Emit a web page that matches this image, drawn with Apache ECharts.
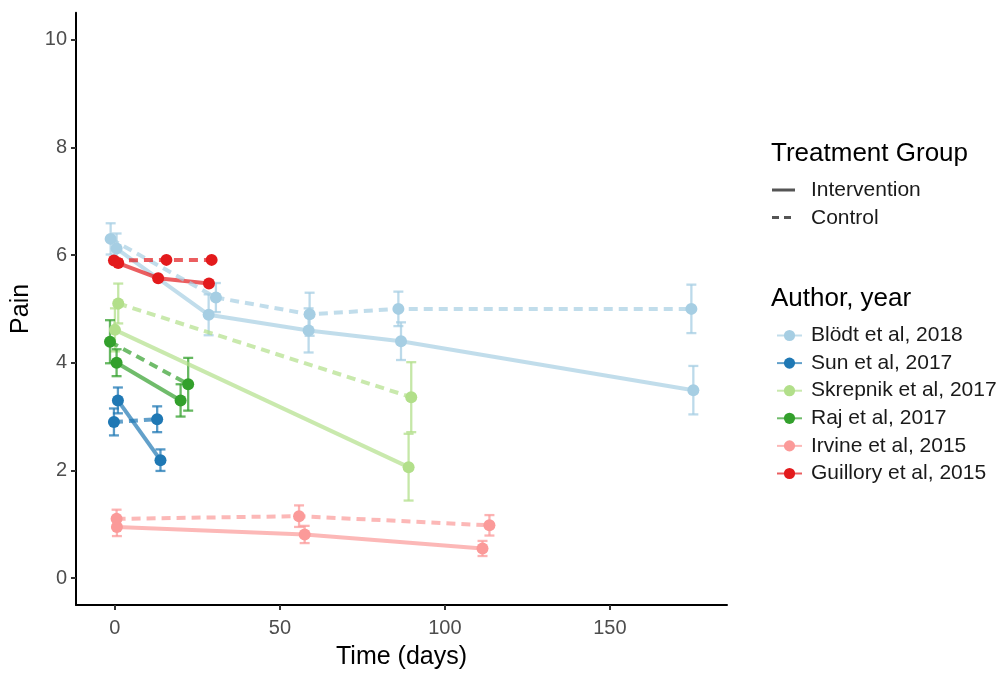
<!DOCTYPE html>
<html>
<head>
<meta charset="utf-8">
<script src="https://cdn.jsdelivr.net/npm/echarts@6/dist/echarts.min.js"></script>
<style>html,body{margin:0;padding:0;background:#fff;}#c{width:1001px;height:675px;}</style>
</head>
<body>
<div id="c"></div>
<script>
// ---- data ----
const authors = ['Blödt et al, 2018', 'Sun et al, 2017', 'Skrepnik et al, 2017', 'Raj et al, 2017', 'Irvine et al, 2015', 'Guillory et al, 2015'];
const colors = ['#A6CEE3', '#1F78B4', '#B2DF8A', '#33A02C', '#FB9A99', '#E31A1C'];
const groups = ['Intervention', 'Control'];
const xTicks = [0, 50, 100, 150];
const yTicks = [0, 2, 4, 6, 8, 10];

// Intervention arms
const bloedtIntDays = [0.5, 28.4, 58.7, 86.7, 175.3];
const bloedtIntPain = [6.12, 4.89, 4.60, 4.40, 3.49];
const bloedtIntErr  = [0.28, 0.38, 0.41, 0.35, 0.45];
const sunIntDays = [0.9, 13.8];
const sunIntPain = [3.30, 2.19];
const sunIntErr  = [0.24, 0.20];
const skrepIntDays = [0.0, 89.0];
const skrepIntPain = [4.61, 2.06];
const skrepIntErr  = [0.40, 0.62];
const rajIntDays = [0.5, 19.9];
const rajIntPain = [4.00, 3.30];
const rajIntErr  = [0.25, 0.30];
const irvIntDays = [0.6, 57.5, 111.4];
const irvIntPain = [0.95, 0.81, 0.55];
const irvIntErr  = [0.17, 0.16, 0.14];
const guilIntDays = [1.0, 13.1, 28.5];
const guilIntPain = [5.85, 5.57, 5.47];
const guilIntErr  = [0, 0, 0];

// Control arms
const bloedtCtlDays = [-1.3, 30.6, 59.0, 85.9, 174.7];
const bloedtCtlPain = [6.30, 5.21, 4.90, 5.00, 5.00];
const bloedtCtlErr  = [0.29, 0.27, 0.40, 0.32, 0.45];
const sunCtlDays = [-0.3, 12.8];
const sunCtlPain = [2.90, 2.95];
const sunCtlErr  = [0.25, 0.24];
const skrepCtlDays = [1.0, 89.8];
const skrepCtlPain = [5.10, 3.36];
const skrepCtlErr  = [0.37, 0.65];
const rajCtlDays = [-1.5, 22.2];
const rajCtlPain = [4.39, 3.60];
const rajCtlErr  = [0.40, 0.49];
const irvCtlDays = [0.5, 55.8, 113.5];
const irvCtlPain = [1.10, 1.15, 0.98];
const irvCtlErr  = [0.17, 0.20, 0.19];
const guilCtlDays = [-0.3, 15.6, 29.3];
const guilCtlPain = [5.90, 5.91, 5.91];
const guilCtlErr  = [0, 0, 0];

const arms = [
  [0, 0, bloedtIntDays, bloedtIntPain, bloedtIntErr],
  [1, 0, sunIntDays, sunIntPain, sunIntErr],
  [2, 0, skrepIntDays, skrepIntPain, skrepIntErr],
  [3, 0, rajIntDays, rajIntPain, rajIntErr],
  [4, 0, irvIntDays, irvIntPain, irvIntErr],
  [5, 0, guilIntDays, guilIntPain, guilIntErr],
  [0, 1, bloedtCtlDays, bloedtCtlPain, bloedtCtlErr],
  [1, 1, sunCtlDays, sunCtlPain, sunCtlErr],
  [2, 1, skrepCtlDays, skrepCtlPain, skrepCtlErr],
  [3, 1, rajCtlDays, rajCtlPain, rajCtlErr],
  [4, 1, irvCtlDays, irvCtlPain, irvCtlErr],
  [5, 1, guilCtlDays, guilCtlPain, guilCtlErr]
];

const FONT = '"Liberation Sans", Arial, sans-serif';
const series = [];

arms.forEach(([ai, gi, d, p, e]) => {
  const col = colors[ai];
  series.push({
    type: 'custom',
    z: 2,
    silent: true,
    data: d.map((x, i) => [x, p[i], e[i]]),
    encode: {x: 0, y: 1},
    renderItem: function (params, api) {
      const x = api.value(0), y = api.value(1), er = api.value(2);
      if (!er) return null;
      const t = api.coord([x, y + er]);
      const b = api.coord([x, y - er]);
      const hw = 5;
      const st = {stroke: col, lineWidth: 2.3, opacity: 0.75};
      return {
        type: 'group',
        children: [
          {type: 'line', shape: {x1: t[0], y1: t[1], x2: b[0], y2: b[1]}, style: st},
          {type: 'line', shape: {x1: t[0] - hw, y1: t[1], x2: t[0] + hw, y2: t[1]}, style: st},
          {type: 'line', shape: {x1: b[0] - hw, y1: b[1], x2: b[0] + hw, y2: b[1]}, style: st}
        ]
      };
    }
  });
});

arms.forEach(([ai, gi, d, p, e]) => {
  const col = colors[ai];
  series.push({
    type: 'line',
    name: authors[ai],
    z: 3,
    data: d.map((x, i) => [x, p[i]]),
    symbol: 'circle',
    symbolSize: 12,
    showSymbol: true,
    animation: false,
    itemStyle: {color: col, opacity: 1},
    lineStyle: {color: col, width: 4, opacity: 0.7, type: gi === 0 ? 'solid' : [9, 6]},
    emphasis: {disabled: true}
  });
});

const chart = echarts.init(document.getElementById('c'), null, {renderer: 'canvas'});
chart.setOption({
  backgroundColor: '#ffffff',
  animation: false,
  grid: {left: 76, right: 274, top: 12.75, bottom: 62.3, containLabel: false},
  xAxis: {
    type: 'value',
    min: -11.8,
    max: 185.5,
    name: 'Time (days)',
    nameLocation: 'middle',
    nameGap: 40,
    nameTextStyle: {fontSize: 25, color: '#000', fontFamily: FONT},
    axisLine: {show: true, onZero: false, lineStyle: {color: '#000', width: 2}},
    axisTick: {show: true, length: 5, customValues: xTicks, lineStyle: {color: '#333', width: 2}},
    axisLabel: {customValues: xTicks, fontSize: 20, color: '#4D4D4D', margin: 13, fontFamily: FONT},
    splitLine: {show: false}
  },
  yAxis: {
    type: 'value',
    min: -0.5,
    max: 10.5,
    name: 'Pain',
    nameLocation: 'middle',
    nameGap: 33,
    nameRotate: 90,
    nameTextStyle: {fontSize: 25, color: '#000', fontFamily: FONT},
    axisLine: {show: true, onZero: false, lineStyle: {color: '#000', width: 2}},
    axisTick: {show: true, length: 5, customValues: yTicks, lineStyle: {color: '#333', width: 2}},
    axisLabel: {customValues: yTicks, fontSize: 20, color: '#4D4D4D', margin: 9, fontFamily: FONT},
    splitLine: {show: false}
  },
  legend: {
    orient: 'vertical',
    left: 771,
    top: 320,
    itemWidth: 25,
    itemHeight: 14,
    itemGap: 6.6,
    selectedMode: false,
    data: authors,
    textStyle: {fontSize: 21, color: '#1a1a1a', fontFamily: FONT, padding: [0, 0, 0, 4]}
  },
  graphic: [
    {type: 'text', left: 771, top: 154 - 13, style: {text: 'Treatment Group', fontSize: 26, fill: '#000', fontFamily: FONT}},
    {type: 'line', shape: {x1: 772, y1: 190, x2: 795, y2: 190}, style: {stroke: '#555', lineWidth: 3}},
    {type: 'line', shape: {x1: 772, y1: 217.5, x2: 795, y2: 217.5}, style: {stroke: '#555', lineWidth: 3, lineDash: [7, 5]}},
    {type: 'text', left: 811, top: 191 - 11, style: {text: groups[0], fontSize: 21, fill: '#1a1a1a', fontFamily: FONT}},
    {type: 'text', left: 811, top: 218.5 - 11, style: {text: groups[1], fontSize: 21, fill: '#1a1a1a', fontFamily: FONT}},
    {type: 'text', left: 771, top: 299 - 13, style: {text: 'Author, year', fontSize: 26, fill: '#000', fontFamily: FONT}}
  ],
  series: series
});
</script>
</body>
</html>
